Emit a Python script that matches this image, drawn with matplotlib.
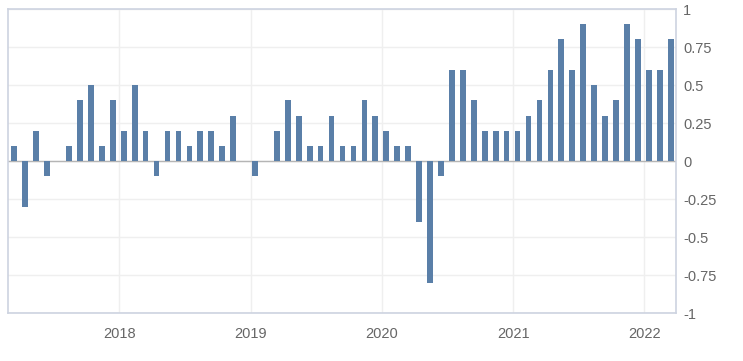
import numpy as np
import matplotlib.pyplot as plt

# monthly values, Mar 2017 .. Mar 2022
months = np.arange(2, 63)  # months since Jan 2017
values = [0.1, -0.3, 0.2, -0.1, 0.0, 0.1, 0.4, 0.5, 0.1, 0.4,          # 2017 Mar-Dec
          0.2, 0.5, 0.2, -0.1, 0.2, 0.2, 0.1, 0.2, 0.2, 0.1, 0.3, 0.0,  # 2018
          -0.1, 0.0, 0.2, 0.4, 0.3, 0.1, 0.1, 0.3, 0.1, 0.1, 0.4, 0.3,  # 2019
          0.2, 0.1, 0.1, -0.4, -0.8, -0.1, 0.6, 0.6, 0.4, 0.2, 0.2, 0.2,  # 2020
          0.2, 0.3, 0.4, 0.6, 0.8, 0.6, 0.9, 0.5, 0.3, 0.4, 0.9, 0.8,  # 2021
          0.6, 0.6, 0.8]                                               # 2022
years = [2018, 2019, 2020, 2021, 2022]
yticks = [-1, -0.75, -0.5, -0.25, 0, 0.25, 0.5, 0.75, 1]
ylabels = ['-1', '-0.75', '-0.5', '-0.25', '0', '0.25', '0.5', '0.75', '1']

plt.rcParams['font.family'] = ['Liberation Sans', 'DejaVu Sans']

fig = plt.figure(figsize=(7.43, 3.61), dpi=100)
ax = fig.add_axes([0.0108, 0.1316, 0.9098 - 0.0108, 0.975 - 0.1316])

ax.bar(months + 0.41, values, width=0.52, color='#5a7fa8', zorder=3)

ax.set_xlim(1.835, 62.89)
ax.set_ylim(-1, 1)

year_pos = [(y - 2017) * 12 for y in years]
ax.set_xticks(year_pos)
ax.set_xticklabels([str(y) for y in years])
ax.set_yticks(yticks)
ax.set_yticklabels(ylabels)
ax.yaxis.tick_right()

ax.grid(True, color='#efefef', linewidth=1, zorder=0)
ax.axhline(0, color='#b5b5b5', linewidth=1, zorder=2)

for s in ax.spines.values():
    s.set_color('#cdd3e0')
    s.set_linewidth(1.2)

ax.tick_params(axis='both', length=0, labelsize=10.5, colors='#666666')
ax.tick_params(axis='x', pad=10)
ax.tick_params(axis='y', pad=5)

fig.savefig('out.png', dpi=100)
